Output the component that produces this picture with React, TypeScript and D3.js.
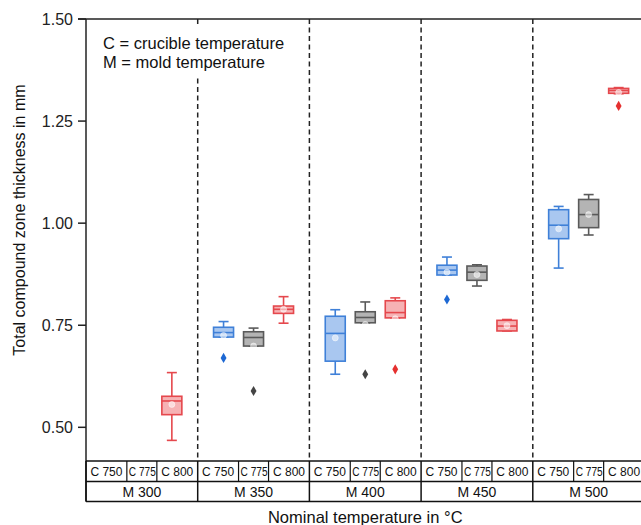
import React from "react";
import * as d3 from "d3";

const groups = ["M 300", "M 350", "M 400", "M 450", "M 500"];
const crucibles = ["C 750", "C 775", "C 800"];
const yTicks = [0.5, 0.75, 1.0, 1.25, 1.5];

// [group][crucible]; null = no data
const whiskerLow = [[null, null, 0.468], [0.721, 0.699, 0.755], [0.630, 0.756, 0.768], [0.873, 0.846, 0.736], [0.890, 0.971, 1.317]];
const q1 = [[null, null, 0.531], [0.721, 0.699, 0.779], [0.662, 0.756, 0.768], [0.873, 0.860, 0.736], [0.962, 0.989, 1.318]];
const median = [[null, null, 0.5645], [0.732, 0.720, 0.789], [0.730, 0.769, 0.781], [0.885, 0.880, 0.748], [0.995, 1.021, 1.325]];
const q3 = [[null, null, 0.576], [0.745, 0.734, 0.797], [0.772, 0.783, 0.810], [0.897, 0.895, 0.762], [1.033, 1.058, 1.330]];
const whiskerHigh = [[null, null, 0.634], [0.759, 0.743, 0.820], [0.788, 0.807, 0.817], [0.917, 0.898, 0.764], [1.041, 1.070, 1.332]];
const means = [[null, null, 0.556], [0.725, 0.699, 0.789], [0.719, 0.752, 0.766], [0.880, 0.874, 0.749], [0.986, 1.021, 1.320]];
const outliers = [[null, null, null], [0.670, 0.589, null], [null, 0.630, 0.642], [0.813, null, null], [null, null, 1.287]];

const strokeColors = ["#3f80d8", "#5a5a5a", "#e5484d"];
const fillColors = ["#a9c7f0", "#b4b4b4", "#f6b2b4"];
const outlierColors = ["#1d68d3", "#444444", "#e5302f"];

const W = 641;
const H = 525;
const left = 86;
const top = 19;
const plotBottom = 461;
const groupW = 111.7;
const font = "'Liberation Sans', Arial, Helvetica, sans-serif";

export default function App() {
  const y = d3.scaleLinear().domain([0.4175, 1.5]).range([plotBottom, top]);
  const xg = d3.scaleBand().domain(groups).range([left, left + groupW * groups.length]).padding(0);
  const sub = d3.scalePoint().domain(crucibles).range([-30, 30]);
  const row1 = plotBottom;
  const row2 = 481.5;
  const row3 = 501.5;
  const boxW = 20;
  const capW = 10;

  const boxes: any[] = [];
  groups.forEach((g, gi) => {
    crucibles.forEach((c, ci) => {
      if (q1[gi][ci] == null) return;
      const cx = (xg(g) as number) + xg.bandwidth() / 2 + (sub(c) as number);
      const sc = strokeColors[ci];
      boxes.push(
        <g key={g + c}>
          <line x1={cx} x2={cx} y1={y(whiskerHigh[gi][ci] as number)} y2={y(q3[gi][ci] as number)} stroke={sc} strokeWidth={1.6} />
          <line x1={cx} x2={cx} y1={y(whiskerLow[gi][ci] as number)} y2={y(q1[gi][ci] as number)} stroke={sc} strokeWidth={1.6} />
          <line x1={cx - capW / 2} x2={cx + capW / 2} y1={y(whiskerHigh[gi][ci] as number)} y2={y(whiskerHigh[gi][ci] as number)} stroke={sc} strokeWidth={1.6} />
          <line x1={cx - capW / 2} x2={cx + capW / 2} y1={y(whiskerLow[gi][ci] as number)} y2={y(whiskerLow[gi][ci] as number)} stroke={sc} strokeWidth={1.6} />
          <rect x={cx - boxW / 2} width={boxW} y={y(q3[gi][ci] as number)} height={y(q1[gi][ci] as number) - y(q3[gi][ci] as number)} fill={fillColors[ci]} stroke={sc} strokeWidth={1.6} />
          <line x1={cx - boxW / 2} x2={cx + boxW / 2} y1={y(median[gi][ci] as number)} y2={y(median[gi][ci] as number)} stroke={sc} strokeWidth={1.6} />
          <circle cx={cx} cy={y(means[gi][ci] as number)} r={3} fill="#ffffff" fillOpacity={0.55} stroke="#ffffff" strokeOpacity={0.6} strokeWidth={0.8} />
          {outliers[gi][ci] != null && (
            <path
              d={d3.symbol().type(d3.symbolDiamond).size(30)() as string}
              transform={`translate(${cx},${y(outliers[gi][ci] as number)})`}
              fill={outlierColors[ci]}
            />
          )}
        </g>
      );
    });
  });

  return (
    <svg width={W} height={H} style={{ position: "absolute", left: 0, top: 0 }} fontFamily={font}>
      <rect width={W} height={H} fill="#ffffff" />
      {/* dashed group separators */}
      {groups.slice(1).map((g) => (
        <line key={g} x1={xg(g)} x2={xg(g)} y1={top} y2={row1} stroke="#222" strokeWidth={1.5} strokeDasharray="5,3.5" />
      ))}
      {/* annotation */}
      <rect x={97} y={24} width={196} height={53} fill="#ffffff" />
      <text x={103} y={49} fontSize={16.5} fill="#111">C = crucible temperature</text>
      <text x={103} y={68} fontSize={16.5} fill="#111">M = mold temperature</text>
      {boxes}
      {/* axes */}
      <line x1={left - 8} x2={W} y1={top} y2={top} stroke="#222" strokeWidth={1.5} />
      <line x1={left} x2={left} y1={top} y2={row3} stroke="#222" strokeWidth={1.5} />
      {yTicks.map((t) => (
        <g key={t}>
          <line x1={left - 8} x2={left} y1={y(t)} y2={y(t)} stroke="#222" strokeWidth={1.5} />
          <text x={73} y={y(t)} dy="0.36em" textAnchor="end" fontSize={16} fill="#222">{d3.format(".2f")(t)}</text>
        </g>
      ))}
      {/* table */}
      <line x1={left} x2={W} y1={row1} y2={row1} stroke="#111" strokeWidth={1.5} />
      <line x1={left} x2={W} y1={row2} y2={row2} stroke="#111" strokeWidth={1.5} />
      <line x1={left} x2={W} y1={row3} y2={row3} stroke="#111" strokeWidth={1.5} />
      {groups.map((g) => {
        const gx = xg(g) as number;
        const gc = gx + xg.bandwidth() / 2;
        const cells = [gx, gc - 15, gc + 15, gx + xg.bandwidth()];
        return (
          <g key={g}>
            <line x1={gx} x2={gx} y1={row1} y2={row3} stroke="#111" strokeWidth={1.5} />
            <line x1={gc - 15} x2={gc - 15} y1={row1} y2={row2} stroke="#111" strokeWidth={1.2} />
            <line x1={gc + 15} x2={gc + 15} y1={row1} y2={row2} stroke="#111" strokeWidth={1.2} />
            {crucibles.map((c, ci) => {
              const mid = (cells[ci] + cells[ci + 1]) / 2;
              return ci === 1 ? (
                <text key={c} x={mid + 0.5} y={row1 + 15} textAnchor="middle" fontSize={12} fill="#111" textLength={27} lengthAdjust="spacingAndGlyphs">{c}</text>
              ) : (
                <text key={c} x={mid} y={row1 + 15} textAnchor="middle" fontSize={12} fill="#111">{c}</text>
              );
            })}
            <text x={gc} y={row2 + 15} textAnchor="middle" fontSize={14} fill="#111">{g}</text>
          </g>
        );
      })}
      {/* axis titles */}
      <text transform={`translate(25,220) rotate(-90)`} textAnchor="middle" fontSize={16} fill="#111">Total compound zone thickness in mm</text>
      <text x={left + (groupW * groups.length) / 2} y={523} textAnchor="middle" fontSize={16.5} fill="#111">Nominal temperature in °C</text>
    </svg>
  );
}
